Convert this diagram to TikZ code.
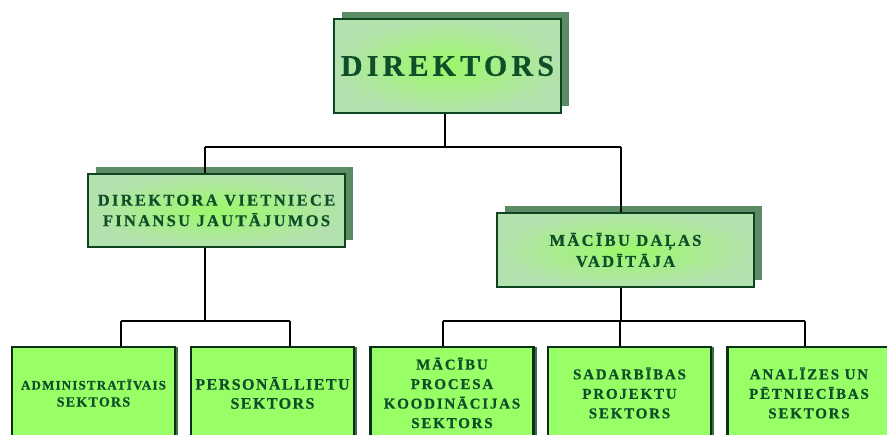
\documentclass[tikz,border=0pt]{standalone}
\usepackage{fontspec}
\setmainfont{Liberation Serif}
\newfontfamily\lsfont[LetterSpace=14, FakeBold=0.6]{Liberation Serif Bold}
\newfontfamily\lsfontb[LetterSpace=12, FakeBold=0.6]{Liberation Serif Bold}
\newfontfamily\lsfontc[LetterSpace=9, FakeBold=0.6]{Liberation Serif Bold}
\usetikzlibrary{shadows}
\definecolor{txt}{HTML}{0E4F2A}
\definecolor{bord}{HTML}{0D4520}
\definecolor{shad}{HTML}{5B8C66}
\definecolor{inn}{HTML}{9CF86A}
\definecolor{outc}{HTML}{B4E2AE}
\definecolor{lime}{HTML}{99FF66}
\definecolor{bshad}{HTML}{3F6E45}
\tikzset{
  topbox/.style={draw=bord, line width=2.8pt, inner color=inn, outer color=outc,
    drop shadow={shadow xshift=8pt, shadow yshift=7pt, opacity=1, fill=shad},
    text=txt, align=center, inner sep=0pt},
  botbox/.style={draw=bord!70!black, line width=2.2pt, fill=lime,
    minimum width=163pt, minimum height=92pt,
    drop shadow={shadow xshift=3pt, shadow yshift=0pt, opacity=1, fill=bshad},
    text=txt, align=center, inner sep=0pt,
    font=\fontsize{15}{19.5}\lsfontb},
  conn/.style={line width=1.8pt, black},
}
\begin{document}
\begin{tikzpicture}[x=1pt,y=-1pt]
\clip (0,0) rectangle (887,435);
\fill[white] (0,0) rectangle (887,435);
% junction coordinates
\coordinate (j0) at (445,147);
\coordinate (jl) at (205,147);
\coordinate (jr) at (621,147);
\coordinate (kl) at (205,321);
\coordinate (kr) at (621,321);
\coordinate (b1x) at (121,321);
\coordinate (b2x) at (290,321);
\coordinate (b3x) at (443,321);
\coordinate (b4x) at (620,321);
\coordinate (b5x) at (805,321);

% nodes
\node[topbox, minimum width=227pt, minimum height=94pt,
  font=\fontsize{30}{34}\lsfont] (dir) at (447.5,66) {DIREKTORS};
\node[topbox, minimum width=257pt, minimum height=73pt,
  font=\fontsize{16.5}{20.5}\lsfont] (vl) at (216.5,210.5) {DIREKTORA VIETNIECE\\FINANSU JAUTĀJUMOS};
\node[topbox, minimum width=257pt, minimum height=74pt,
  font=\fontsize{16.5}{21}\lsfont] (vr) at (625.5,250) {MĀCĪBU DAĻAS\\VADĪTĀJA};

\node[botbox, font=\fontsize{13}{17}\lsfontc] (b1) at (93.5,393) {ADMINISTRATĪVAIS\\\fontsize{14}{17}\selectfont SEKTORS};
\node[botbox, font=\fontsize{16}{19}\lsfontc] (b2) at (272.5,393) {PERSONĀLLIETU\\SEKTORS};
\node[botbox] (b3) at (452,393) {MĀCĪBU\\PROCESA\\KOODINĀCIJAS\\SEKTORS};
\node[botbox] (b4) at (629.5,393) {SADARBĪBAS\\PROJEKTU\\SEKTORS};
\node[botbox] (b5) at (809,393) {ANALĪZES UN\\PĒTNIECĪBAS\\SEKTORS};

% connectors
\draw[conn] (j0 |- dir.south) -- (j0);
\draw[conn] (jl) -- (jr);
\draw[conn] (jl) -- (jl |- vl.north);
\draw[conn] (jr) -- (jr |- vr.north);
\draw[conn] (kl |- vl.south) -- (kl);
\draw[conn] (kr |- vr.south) -- (kr);
\draw[conn] (b1x) -- (b2x);
\draw[conn] (b3x) -- (b5x);
\draw[conn] (b1x) -- (b1x |- b1.north);
\draw[conn] (b2x) -- (b2x |- b2.north);
\draw[conn] (b3x) -- (b3x |- b3.north);
\draw[conn] (b4x) -- (b4x |- b4.north);
\draw[conn] (b5x) -- (b5x |- b5.north);
\end{tikzpicture}
\end{document}
